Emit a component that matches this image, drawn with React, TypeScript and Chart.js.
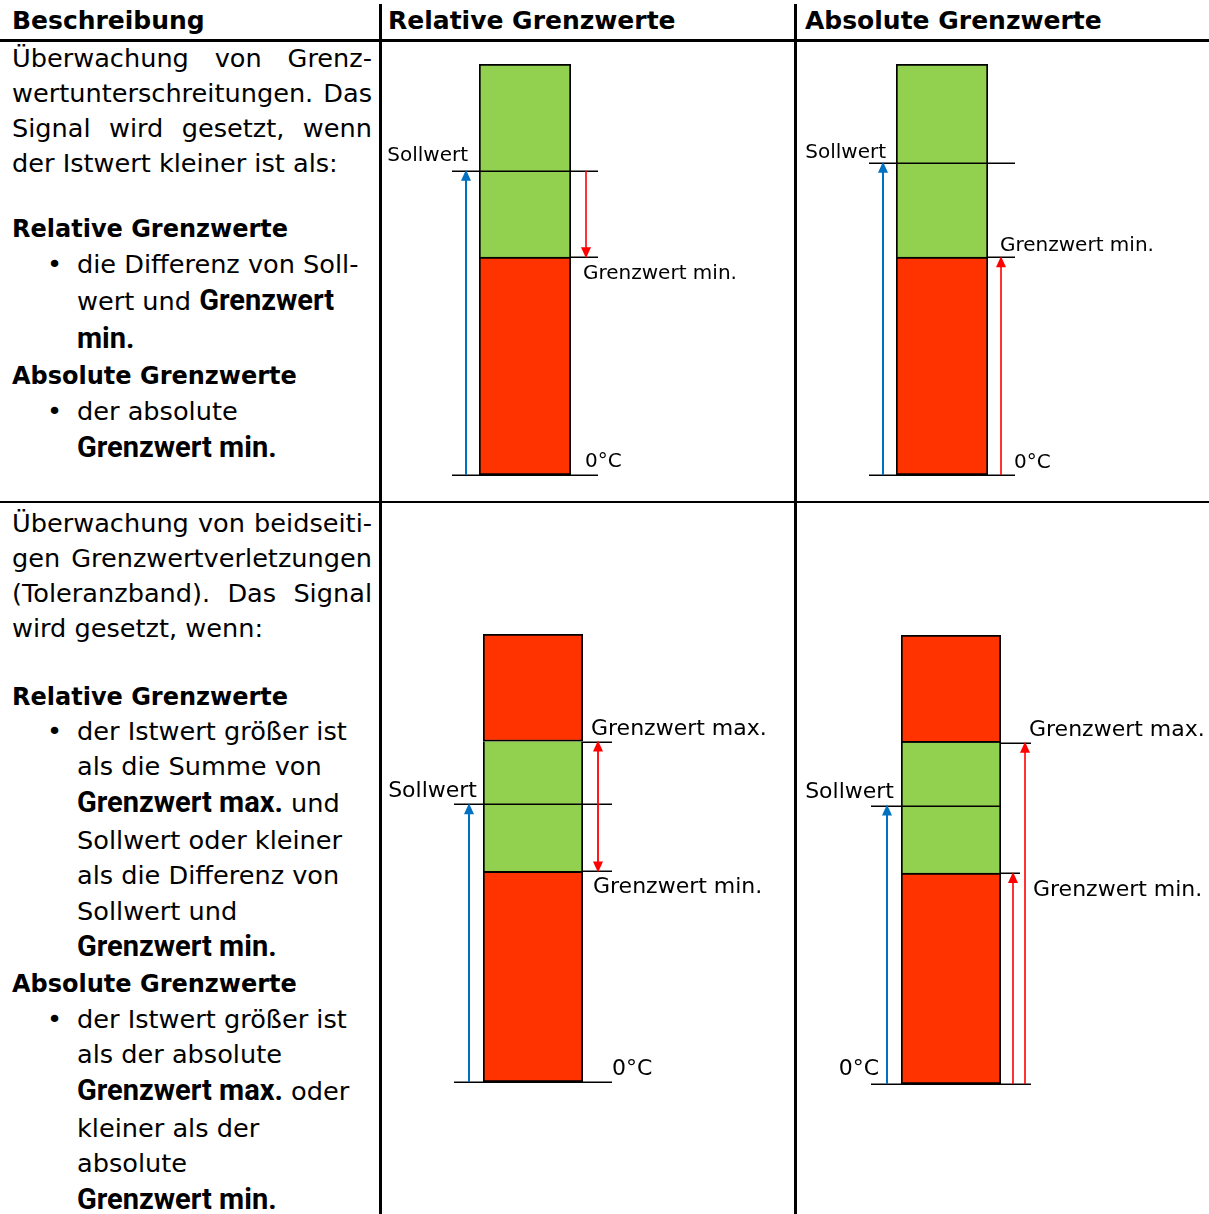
import React, { useEffect, useRef } from 'react';
import { Chart, registerables } from 'chart.js';

Chart.register(...registerables);

// ---------- data ----------
const categories = ['Istwert'];
const skalaMax = [100, 100, 100, 100];
const sollwert = [74, 76, 62, 62];
const grenzwertMin = [53, 53, 47, 47];
const grenzwertMax: (number | null)[] = [null, null, 76, 76];
const labelSoll = 'Sollwert';
const labelMin = 'Grenzwert min.';
const labelMax = 'Grenzwert max.';
const labelZero = '0°C';
const headers = ['Beschreibung', 'Relative Grenzwerte', 'Absolute Grenzwerte'];

const GREEN = '#92D050';
const RED = '#FF3300';
const BLUE = '#0070C0';
const ARROW_RED = '#FF0000';

type Part = string | { b: string };
type TLine = { y: number; k: 'p' | 'h' | 'li' | 'ind'; p: Part[]; j?: boolean };

const descRow1: TLine[] = [
  { y: 67, k: 'p', j: true, p: ['Überwachung von Grenz-'] },
  { y: 102, k: 'p', j: true, p: ['wertunterschreitungen. Das'] },
  { y: 137, k: 'p', j: true, p: ['Signal wird gesetzt, wenn'] },
  { y: 172, k: 'p', p: ['der Istwert kleiner ist als:'] },
  { y: 237, k: 'h', p: ['Relative Grenzwerte'] },
  { y: 273, k: 'li', p: ['die Differenz von Soll-'] },
  { y: 310, k: 'ind', p: ['wert und ', { b: 'Grenzwert' }] },
  { y: 348, k: 'ind', p: [{ b: 'min.' }] },
  { y: 384, k: 'h', p: ['Absolute Grenzwerte'] },
  { y: 420, k: 'li', p: ['der absolute'] },
  { y: 457, k: 'ind', p: [{ b: 'Grenzwert min.' }] },
];

const descRow2: TLine[] = [
  { y: 532, k: 'p', j: true, p: ['Überwachung von beidseiti-'] },
  { y: 567, k: 'p', j: true, p: ['gen Grenzwertverletzungen'] },
  { y: 602, k: 'p', j: true, p: ['(Toleranzband). Das Signal'] },
  { y: 637, k: 'p', p: ['wird gesetzt, wenn:'] },
  { y: 705, k: 'h', p: ['Relative Grenzwerte'] },
  { y: 740, k: 'li', p: ['der Istwert größer ist'] },
  { y: 775, k: 'ind', p: ['als die Summe von'] },
  { y: 812, k: 'ind', p: [{ b: 'Grenzwert max.' }, ' und'] },
  { y: 849, k: 'ind', p: ['Sollwert oder kleiner'] },
  { y: 884, k: 'ind', p: ['als die Differenz von'] },
  { y: 920, k: 'ind', p: ['Sollwert und'] },
  { y: 956, k: 'ind', p: [{ b: 'Grenzwert min.' }] },
  { y: 992, k: 'h', p: ['Absolute Grenzwerte'] },
  { y: 1028, k: 'li', p: ['der Istwert größer ist'] },
  { y: 1063, k: 'ind', p: ['als der absolute'] },
  { y: 1100, k: 'ind', p: [{ b: 'Grenzwert max.' }, ' oder'] },
  { y: 1137, k: 'ind', p: ['kleiner als der'] },
  { y: 1172, k: 'ind', p: ['absolute'] },
  { y: 1209, k: 'ind', p: [{ b: 'Grenzwert min.' }] },
];

// ---------- diagram layout (styling) ----------
type Anchor = ['L' | 'R', number];
type Key = 'zero' | 'soll' | 'min' | 'max';
type Spec = {
  canvas: { x: number; y: number; w: number; h: number };
  bar: { l: number; r: number; t: number; b: number };
  font: number;
  lines: { k: Key; from: Anchor; to: Anchor }[];
  arrows: { x: Anchor; from: Key; to: Key; color: string; width: number; both?: boolean }[];
  labels: { k: Key; t: string; x: Anchor; align: 'left' | 'right'; dy: number }[];
};

const specs: Spec[] = [
  {
    canvas: { x: 383, y: 43, w: 410, h: 458 },
    bar: { l: 479, r: 571, t: 64, b: 475 },
    font: 20,
    lines: [
      { k: 'soll', from: ['L', -27], to: ['R', 27] },
      { k: 'min', from: ['R', 0], to: ['R', 27] },
      { k: 'zero', from: ['L', -27], to: ['R', 27] },
    ],
    arrows: [
      { x: ['L', -13], from: 'zero', to: 'soll', color: BLUE, width: 2 },
      { x: ['R', 15], from: 'soll', to: 'min', color: ARROW_RED, width: 1.6 },
    ],
    labels: [
      { k: 'soll', t: labelSoll, x: ['L', -11], align: 'right', dy: -10 },
      { k: 'min', t: labelMin, x: ['R', 12], align: 'left', dy: 22 },
      { k: 'zero', t: labelZero, x: ['R', 14], align: 'left', dy: -8 },
    ],
  },
  {
    canvas: { x: 798, y: 43, w: 411, h: 458 },
    bar: { l: 896, r: 988, t: 64, b: 475 },
    font: 20,
    lines: [
      { k: 'soll', from: ['L', -27], to: ['R', 27] },
      { k: 'min', from: ['R', 0], to: ['R', 27] },
      { k: 'zero', from: ['L', -27], to: ['R', 27] },
    ],
    arrows: [
      { x: ['L', -13], from: 'zero', to: 'soll', color: BLUE, width: 2 },
      { x: ['R', 13], from: 'zero', to: 'min', color: ARROW_RED, width: 1.6 },
    ],
    labels: [
      { k: 'soll', t: labelSoll, x: ['L', -10], align: 'right', dy: -5 },
      { k: 'min', t: labelMin, x: ['R', 12], align: 'left', dy: -6 },
      { k: 'zero', t: labelZero, x: ['R', 26], align: 'left', dy: -7 },
    ],
  },
  {
    canvas: { x: 383, y: 504, w: 410, h: 710 },
    bar: { l: 483, r: 583, t: 634, b: 1082 },
    font: 22,
    lines: [
      { k: 'max', from: ['R', 0], to: ['R', 29] },
      { k: 'soll', from: ['L', -29], to: ['R', 29] },
      { k: 'min', from: ['R', 0], to: ['R', 29] },
      { k: 'zero', from: ['L', -29], to: ['R', 29] },
    ],
    arrows: [
      { x: ['L', -14], from: 'zero', to: 'soll', color: BLUE, width: 2 },
      { x: ['R', 15], from: 'min', to: 'max', color: ARROW_RED, width: 1.8, both: true },
    ],
    labels: [
      { k: 'max', t: labelMax, x: ['R', 8], align: 'left', dy: -7 },
      { k: 'soll', t: labelSoll, x: ['L', -6], align: 'right', dy: -7 },
      { k: 'min', t: labelMin, x: ['R', 10], align: 'left', dy: 22 },
      { k: 'zero', t: labelZero, x: ['R', 29], align: 'left', dy: -7 },
    ],
  },
  {
    canvas: { x: 798, y: 504, w: 411, h: 710 },
    bar: { l: 901, r: 1001, t: 635, b: 1084 },
    font: 22,
    lines: [
      { k: 'max', from: ['R', 0], to: ['R', 30] },
      { k: 'soll', from: ['L', -30], to: ['R', 0] },
      { k: 'min', from: ['R', 0], to: ['R', 19] },
      { k: 'zero', from: ['L', -30], to: ['R', 30] },
    ],
    arrows: [
      { x: ['L', -14], from: 'zero', to: 'soll', color: BLUE, width: 2 },
      { x: ['R', 12], from: 'zero', to: 'min', color: ARROW_RED, width: 1.6 },
      { x: ['R', 24], from: 'zero', to: 'max', color: ARROW_RED, width: 1.6 },
    ],
    labels: [
      { k: 'max', t: labelMax, x: ['R', 28], align: 'left', dy: -7 },
      { k: 'soll', t: labelSoll, x: ['L', -7], align: 'right', dy: -8 },
      { k: 'min', t: labelMin, x: ['R', 32], align: 'left', dy: 23 },
      { k: 'zero', t: labelZero, x: ['L', -22], align: 'right', dy: -9 },
    ],
  },
];

// ---------- plugin drawing reference lines, arrows and labels ----------
const diagramPlugin = {
  id: 'diagram',
  afterDatasetsDraw(chart: any, _args: any, opts: any) {
    const { ctx, chartArea, scales } = chart;
    const ys = scales.y;
    const spec: Spec = opts.spec;
    const vals: Record<string, number | null> = opts.values;
    const ax = (a: Anchor) => (a[0] === 'L' ? chartArea.left : chartArea.right) + a[1];
    const py = (k: Key) => ys.getPixelForValue(vals[k] as number);
    ctx.save();
    ctx.strokeStyle = '#000';
    ctx.lineWidth = 1.5;
    for (const ln of spec.lines) {
      const yy = Math.round(py(ln.k)) + 0.25;
      ctx.beginPath();
      ctx.moveTo(ax(ln.from), yy);
      ctx.lineTo(ax(ln.to), yy);
      ctx.stroke();
    }
    const hl = 11;
    const hw = 5;
    const head = (x: number, tipY: number, dir: number) => {
      ctx.beginPath();
      ctx.moveTo(x, tipY);
      ctx.lineTo(x - hw, tipY - dir * hl);
      ctx.lineTo(x + hw, tipY - dir * hl);
      ctx.closePath();
      ctx.fill();
    };
    for (const ar of spec.arrows) {
      const x = Math.round(ax(ar.x));
      const y1 = py(ar.from);
      const y2 = py(ar.to);
      const dir = Math.sign(y2 - y1);
      ctx.strokeStyle = ar.color;
      ctx.fillStyle = ar.color;
      ctx.lineWidth = ar.width;
      ctx.beginPath();
      ctx.moveTo(x, ar.both ? y1 + dir * (hl - 2) : y1);
      ctx.lineTo(x, y2 - dir * (hl - 2));
      ctx.stroke();
      head(x, y2 + dir * 1, dir);
      if (ar.both) head(x, y1 - dir * 1, -dir);
    }
    ctx.fillStyle = '#000';
    ctx.font = `${spec.font}px "DejaVu Sans"`;
    ctx.textBaseline = 'alphabetic';
    for (const lb of spec.labels) {
      ctx.textAlign = lb.align;
      ctx.fillText(lb.t, ax(lb.x), py(lb.k) + lb.dy);
    }
    ctx.restore();
  },
};

function Diagram({ i }: { i: number }) {
  const ref = useRef<HTMLCanvasElement>(null);
  const s = specs[i];
  useEffect(() => {
    if (!ref.current) return;
    const top = skalaMax[i];
    const mn = grenzwertMin[i];
    const mx = grenzwertMax[i];
    const bw = (t: number, b: number) => ({ top: t, bottom: b, left: 2, right: 2 });
    const common = {
      borderColor: '#000',
      borderSkipped: false,
      grouped: false,
      barPercentage: 1,
      categoryPercentage: 1,
    };
    const datasets: any[] = [
      { ...common, label: 'unter', data: [[0, mn]], backgroundColor: RED, borderWidth: bw(2, 2) },
    ];
    if (mx == null) {
      datasets.push({ ...common, label: 'ok', data: [[mn, top]], backgroundColor: GREEN, borderWidth: bw(2, 0) });
    } else {
      datasets.push({ ...common, label: 'ok', data: [[mn, mx]], backgroundColor: GREEN, borderWidth: bw(0, 0) });
      datasets.push({ ...common, label: 'ueber', data: [[mx, top]], backgroundColor: RED, borderWidth: bw(2, 2) });
    }
    const pad = {
      left: s.bar.l - s.canvas.x,
      right: s.canvas.x + s.canvas.w - s.bar.r,
      top: s.bar.t - s.canvas.y,
      bottom: s.canvas.y + s.canvas.h - s.bar.b,
    };
    const chart = new Chart(ref.current, {
      type: 'bar',
      data: { labels: categories, datasets },
      options: {
        animation: false,
        responsive: false,
        events: [],
        layout: { padding: pad },
        plugins: {
          legend: { display: false },
          tooltip: { enabled: false },
          diagram: {
            spec: s,
            values: { zero: 0, soll: sollwert[i], min: mn, max: mx },
          },
        } as any,
        scales: {
          x: { display: false, offset: true },
          y: { display: false, min: 0, max: top },
        },
      },
      plugins: [diagramPlugin],
    } as any);
    return () => chart.destroy();
  }, [i]);
  return (
    <canvas
      ref={ref}
      width={s.canvas.w}
      height={s.canvas.h}
      style={{ position: 'absolute', left: s.canvas.x, top: s.canvas.y, width: s.canvas.w, height: s.canvas.h }}
    />
  );
}

// ---------- text ----------
const BODY = 25.6;
const SUB = 24;
const HEAD = 25;
const LH = 40;
const topFor = (baseline: number, size: number) => baseline - (LH / 2 + 0.346 * size);

function renderParts(parts: Part[]) {
  return parts.map((p, idx) =>
    typeof p === 'string' ? (
      <span key={idx} style={{ whiteSpace: 'pre' }}>{p}</span>
    ) : (
      <span
        key={idx}
        style={{ fontFamily: 'Roboto', fontWeight: 700, fontSize: 29, lineHeight: 1, whiteSpace: 'pre' }}
      >
        {p.b}
      </span>
    ),
  );
}

function DescLine({ ln }: { ln: TLine }) {
  const size = ln.k === 'h' ? SUB : BODY;
  const x = ln.k === 'li' || ln.k === 'ind' ? 77 : 12;
  const base: React.CSSProperties = {
    position: 'absolute',
    left: x,
    top: topFor(ln.y, size),
    height: LH,
    lineHeight: `${LH}px`,
    fontSize: size,
    fontWeight: ln.k === 'h' ? 700 : 400,
    whiteSpace: 'nowrap',
  };
  const out: React.ReactNode[] = [];
  if (ln.k === 'li') {
    out.push(
      <div key="b" style={{ ...base, left: 47 }}>
        •
      </div>,
    );
  }
  if (ln.j) {
    const words = (ln.p[0] as string).split(' ');
    out.push(
      <div key="t" style={{ ...base, width: 360, display: 'flex', justifyContent: 'space-between' }}>
        {words.map((w, i) => (
          <span key={i}>{w}</span>
        ))}
      </div>,
    );
  } else {
    out.push(
      <div key="t" style={base}>
        {renderParts(ln.p)}
      </div>,
    );
  }
  return <>{out}</>;
}

export default function App() {
  const headerX = [12, 388, 805];
  return (
    <div
      style={{
        position: 'absolute',
        left: 0,
        top: 0,
        width: 1209,
        height: 1214,
        overflow: 'hidden',
        background: '#fff',
        color: '#000',
        fontFamily: '"DejaVu Sans", sans-serif',
      }}
    >
      {headers.map((h, i) => (
        <div
          key={h}
          style={{
            position: 'absolute',
            left: headerX[i],
            top: topFor(30, HEAD),
            height: LH,
            lineHeight: `${LH}px`,
            fontSize: HEAD,
            fontWeight: 700,
            whiteSpace: 'nowrap',
          }}
        >
          {h}
        </div>
      ))}
      {descRow1.map((ln, i) => (
        <DescLine key={'a' + i} ln={ln} />
      ))}
      {descRow2.map((ln, i) => (
        <DescLine key={'b' + i} ln={ln} />
      ))}
      {specs.map((_, i) => (
        <Diagram key={i} i={i} />
      ))}
      <div style={{ position: 'absolute', left: 0, top: 39, width: 1209, height: 3, background: '#000' }} />
      <div style={{ position: 'absolute', left: 0, top: 501, width: 1209, height: 2, background: '#000' }} />
      <div style={{ position: 'absolute', left: 379, top: 4, width: 3, height: 1210, background: '#000' }} />
      <div style={{ position: 'absolute', left: 794, top: 4, width: 3, height: 1210, background: '#000' }} />
    </div>
  );
}
